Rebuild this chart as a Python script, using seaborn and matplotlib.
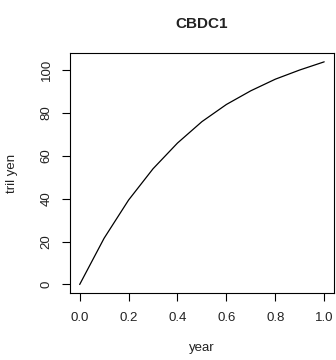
import matplotlib
matplotlib.use("Agg")
import matplotlib.pyplot as plt
import seaborn as sns
import pandas as pd

year = [0.0, 0.1, 0.2, 0.3, 0.4, 0.5, 0.6, 0.7, 0.8, 0.9, 1.0]
tril_yen = [0.0, 21.6, 39.4, 54.0, 66.0, 76.0, 84.0, 90.4, 95.8, 100.1, 103.9]
xticks = [0.0, 0.2, 0.4, 0.6, 0.8, 1.0]
yticks = [0, 20, 40, 60, 80, 100]

sns.set_style("ticks")
plt.rcParams['font.family'] = ['Liberation Sans', 'DejaVu Sans']

df = pd.DataFrame({"year": year, "tril yen": tril_yen})

fig = plt.figure(figsize=(3.36, 3.6), dpi=100)
ax = fig.add_axes([0.208, 0.185, 0.786, 0.668])
sns.lineplot(data=df, x="year", y="tril yen", ax=ax, color="black", linewidth=0.9)

ax.set_xlim(-0.04, 1.04)
ax.set_ylim(-4.16, 108.06)
ax.set_xticks(xticks)
ax.set_xticklabels([f"{v:.1f}" for v in xticks])
ax.set_yticks(yticks)
ax.set_yticklabels([str(v) for v in yticks], rotation=90, va="center")
for s in ax.spines.values():
    s.set_visible(True)
    s.set_color("black")
    s.set_linewidth(0.8)
ax.tick_params(axis="both", direction="out", length=5.5, width=0.8, colors="black",
               labelsize=9.5, pad=7, labelcolor="#222222")
ax.tick_params(axis="x", pad=8)
ax.set_xlabel("year", fontsize=9.5, labelpad=13, color="#222222")
ax.set_ylabel("tril yen", fontsize=9.5, labelpad=16, color="#222222")
ax.set_title("CBDC1", fontsize=11, fontweight="bold", pad=18, color="#222222")

fig.savefig("out.png", dpi=100)
